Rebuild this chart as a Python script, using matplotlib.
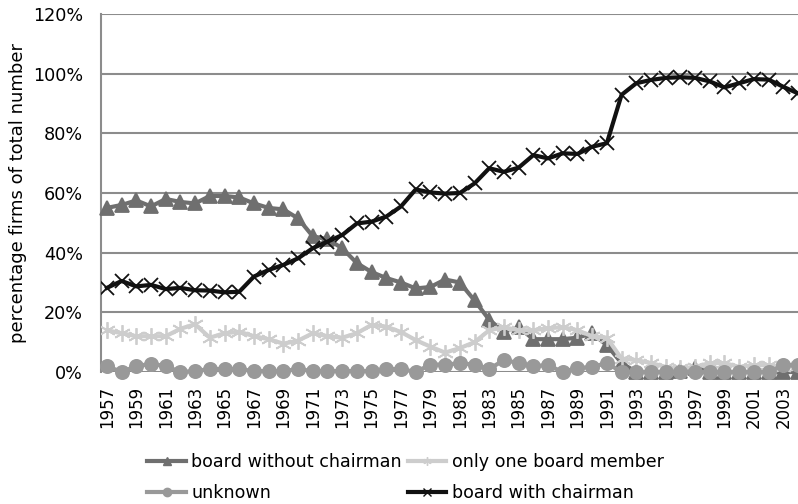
import numpy as np
import matplotlib
matplotlib.use("Agg")
import matplotlib.pyplot as plt
from matplotlib.lines import Line2D

# jaren 1957 - 2004
years = np.arange(1957, 2005)

without_chairman = [55, 56, 57.5, 55.5, 58, 57, 56.5, 59, 59, 58.5, 56.5, 55, 54.5, 51.5,
                    45.5, 44.5, 41.5, 36.5, 33.5, 31.5, 30, 28, 28.5, 31, 30, 24,
                    17.5, 13.5, 15, 11, 11, 11, 11.5, 13, 9, 3, 0, 0, 0, 0.5,
                    1.5, 0, 0, 0, 0, 0, 0, 0]
one_member = [14, 13, 12, 12, 12, 14.5, 16, 11.5, 13, 13.5, 12, 11, 9.5, 10.5,
              13, 12, 11.5, 13, 15.8, 15.2, 13.4, 10.7, 8.5, 6.5, 8, 10,
              14, 15, 14, 14, 14.7, 15, 14, 12, 11.5, 4.5, 4, 3, 1.7, 1.2,
              1.7, 3, 3, 1.7, 2.3, 2.3, 1.7, 2]
unknown = [2, 0, 2, 2.7, 2, 0, 0.3, 1, 1, 1, 0.3, 0.3, 0.3, 1,
           0.3, 0.3, 0.3, 0.3, 0.3, 1, 1, 0, 2.5, 2.5, 2.9, 2.5, 1, 4,
           3, 2, 2.3, 0, 1.3, 1.7, 3, 0, 0, 0, 0, 0, 0, 0, 0, 0, 0, 0, 2.3, 2.3]
with_chairman = [28.2, 30.5, 28.7, 29.2, 27.8, 28.2, 27.4, 27.3, 26.7, 26.9, 32, 34.2,
                 35.9, 38.1, 41.5, 43.7, 45.9, 49.8, 50.4, 52.1, 55.5, 61.2, 60.2, 59.8,
                 60, 63.2, 68.3, 67.1, 68.5, 72.7, 71.6, 73.3, 73.1, 75.5, 76.7, 92.9,
                 96.8, 97.9, 98.6, 98.8, 98.6, 97.4, 95.4, 96.8, 98.2, 98, 95.6, 93.4]

labels = ['board without chairman', 'only one board member', 'unknown', 'board with chairman']

plt.rcParams['font.family'] = 'DejaVu Sans'
plt.rcParams['font.size'] = 12

fig = plt.figure(figsize=(7.98, 5.04), dpi=100)
ax = fig.add_axes([0.1266, 0.2619, 0.8734, 0.7103])

# reeksen: (waarden, kleur, marker, markergrootte)
styles = [
    (without_chairman, '#6f6f6f', '^', 9.5),
    (one_member, '#cdcdcd', (6, 2, 0), 12),
    (unknown, '#999999', 'o', 9.5),
    (with_chairman, '#111111', 'x', 10.5),
]
handles = []
for i, (vals, col, mk, ms) in enumerate(styles):
    ax.plot(years, vals, color=col, lw=3, marker=mk, ms=ms, mew=1.3,
            zorder=3 + i, clip_on=(i in (1, 3)))
    # kleine markers in de legenda, zoals in Excel
    handles.append(Line2D([], [], color=col, lw=3, marker=mk, ms=6, mew=1))

ax.set_xlim(1956.6, 2004.0)
ax.set_ylim(0, 120)
ax.set_yticks(np.arange(0, 121, 20))
ax.set_yticklabels([f'{v}%' for v in range(0, 121, 20)], fontsize=12.7)
ax.set_xticks(years[::2])
ax.set_xticklabels([str(y) for y in years[::2]], rotation=90, fontsize=12)
ax.tick_params(axis='y', length=0, pad=13)
ax.tick_params(axis='x', length=0, pad=10)
ax.grid(axis='y', color='#8c8c8c', lw=1.5)
ax.set_axisbelow(True)
for s in ['top', 'right', 'bottom']:
    ax.spines[s].set_visible(False)
ax.spines['left'].set_color('#8c8c8c')
ax.spines['left'].set_linewidth(1.5)
ax.set_ylabel('percentage firms of total number', fontsize=13, labelpad=4)

order = [0, 2, 1, 3]
fig.legend([handles[i] for i in order], [labels[i] for i in order],
           ncol=2, loc='upper center', bbox_to_anchor=(0.508, 0.119), frameon=False,
           fontsize=12.6, handlelength=2.2, handletextpad=0.3, columnspacing=0.35,
           labelspacing=0.75, borderpad=0)

fig.savefig('out.png', dpi=100)
